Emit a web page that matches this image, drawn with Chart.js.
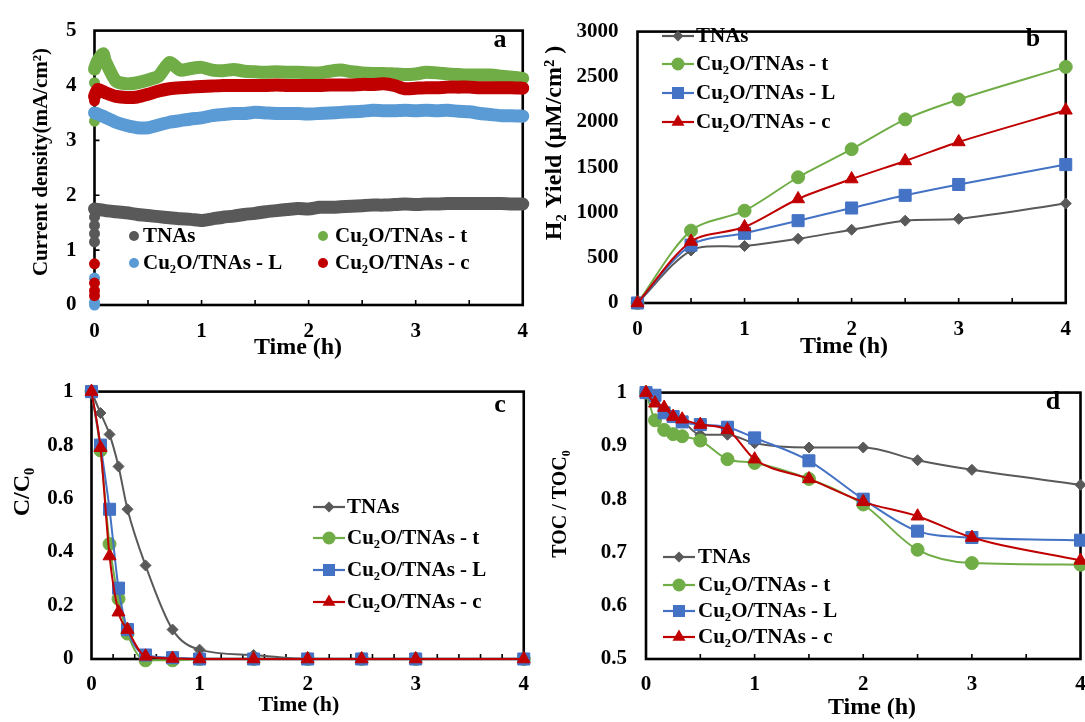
<!DOCTYPE html>
<html>
<head>
<meta charset="utf-8">
<script src="https://cdn.jsdelivr.net/npm/chart.js@4.4.1/dist/chart.umd.min.js"></script>
<style>
  html, body { margin: 0; padding: 0; background: #fff; overflow: hidden; width: 1085px; height: 722px; }
  canvas { position: absolute; }
</style>
</head>
<body>
<canvas id="ca" width="542" height="361" style="left:0;top:0"></canvas>
<canvas id="cb" width="543" height="361" style="left:542px;top:0"></canvas>
<canvas id="cc" width="542" height="361" style="left:0;top:361px"></canvas>
<canvas id="cd" width="563" height="361" style="left:542px;top:361px"></canvas>
<script>
var FONT = '"Liberation Serif", "Times New Roman", serif';
var names = ['TNAs', 'Cu₂O/TNAs - t', 'Cu₂O/TNAs - L', 'Cu₂O/TNAs - c'];
var colA = ['#595959', '#70AD47', '#5B9BD5', '#C00000'];
var colL = ['#595959', '#70AD47', '#4472C4', '#C00000'];
var marks = ['rectRot', 'circle', 'rect', 'triangle'];
var markR = [5.5, 6.5, 8.5, 7.5];

// (a) current density vs time
var tA = [0, 0.03, 0.08, 0.1, 0.2, 0.3, 0.4, 0.5, 0.6, 0.7, 0.8, 0.9, 1.0, 1.1, 1.2, 1.3, 1.4, 1.5, 1.6, 1.7, 1.8, 1.9, 2.0,
  2.1, 2.2, 2.3, 2.4, 2.5, 2.6, 2.7, 2.8, 2.9, 3.0, 3.1, 3.2, 3.3, 3.4, 3.5, 3.6, 3.7, 3.8, 3.9, 4.0];
var aTNAs = [1.75, 1.74, 1.73, 1.72, 1.70, 1.68, 1.65, 1.63, 1.61, 1.59, 1.57, 1.56, 1.54, 1.57, 1.60, 1.62, 1.65, 1.67, 1.70, 1.72, 1.74, 1.76, 1.75,
  1.78, 1.78, 1.79, 1.80, 1.81, 1.82, 1.82, 1.83, 1.84, 1.83, 1.84, 1.84, 1.85, 1.85, 1.85, 1.85, 1.85, 1.85, 1.84, 1.84];
var aT = [4.30, 4.45, 4.58, 4.45, 4.08, 4.03, 4.05, 4.10, 4.17, 4.42, 4.28, 4.31, 4.33, 4.28, 4.27, 4.29, 4.26, 4.25, 4.24, 4.25, 4.24, 4.24, 4.23,
  4.23, 4.26, 4.28, 4.25, 4.23, 4.22, 4.22, 4.21, 4.20, 4.21, 4.24, 4.23, 4.21, 4.20, 4.19, 4.19, 4.19, 4.17, 4.15, 4.13];
var aL = [3.50, 3.48, 3.44, 3.42, 3.33, 3.27, 3.23, 3.23, 3.28, 3.33, 3.36, 3.39, 3.41, 3.45, 3.47, 3.49, 3.49, 3.51, 3.50, 3.49, 3.49, 3.49, 3.48,
  3.49, 3.50, 3.51, 3.52, 3.53, 3.55, 3.54, 3.54, 3.55, 3.54, 3.55, 3.54, 3.55, 3.53, 3.52, 3.49, 3.47, 3.45, 3.45, 3.44];
var aC = [3.80, 3.93, 3.89, 3.87, 3.80, 3.78, 3.79, 3.84, 3.90, 3.94, 3.96, 3.97, 3.98, 3.99, 4.00, 4.00, 4.00, 4.00, 4.00, 4.01, 4.00, 4.00, 4.00,
  4.00, 4.01, 4.01, 4.01, 4.02, 4.02, 4.03, 4.00, 3.94, 3.95, 3.96, 3.96, 3.97, 3.97, 3.97, 3.96, 3.96, 3.96, 3.96, 3.95];
// scattered first readings at t = 0
var a0TNAs = [1.15, 1.3, 1.45, 1.6];
var a0T = [3.35, 4.05];
var a0L = [0.49, 0.05, 0.0, 3.5];
var a0C = [0.75, 0.40, 0.26, 0.17, 3.72];

// (b) H2 yield
var tB = [0, 0.5, 1, 1.5, 2, 2.5, 3, 4];
var bTNAs = [0, 580, 630, 710, 810, 910, 930, 1100];
var bT = [0, 800, 1020, 1390, 1700, 2030, 2250, 2610];
var bL = [0, 640, 770, 910, 1050, 1190, 1310, 1530];
var bC = [0, 680, 840, 1150, 1370, 1570, 1780, 2130];

// (c) C/C0
var tC = [0, 0.083, 0.167, 0.25, 0.333, 0.5, 0.75, 1, 1.5, 2, 2.5, 3, 4];
var cTNAs = [1, 0.92, 0.84, 0.72, 0.56, 0.35, 0.11, 0.035, 0.015, 0, 0, 0, 0];
var cT = [1, 0.78, 0.43, 0.225, 0.095, -0.005, -0.005, 0, 0, 0, 0, 0, 0];
var cL = [1, 0.80, 0.56, 0.265, 0.11, 0.015, 0.005, 0, 0, 0, 0, 0, 0];
var cC = [1, 0.79, 0.385, 0.175, 0.11, 0.01, 0.002, 0, 0, 0, 0, 0, 0];

// (d) TOC/TOC0
var tD = [0, 0.083, 0.167, 0.25, 0.333, 0.5, 0.75, 1, 1.5, 2, 2.5, 3, 4];
var dTNAs = [1, 0.985, 0.967, 0.957, 0.947, 0.921, 0.921, 0.905, 0.897, 0.897, 0.873, 0.855, 0.827];
var dT = [1, 0.948, 0.930, 0.922, 0.918, 0.910, 0.875, 0.868, 0.838, 0.790, 0.705, 0.680, 0.677];
var dL = [1, 0.995, 0.962, 0.955, 0.945, 0.940, 0.935, 0.915, 0.872, 0.800, 0.740, 0.728, 0.723];
var dC = [1, 0.980, 0.972, 0.955, 0.950, 0.940, 0.930, 0.875, 0.838, 0.795, 0.768, 0.728, 0.685];

function pts(xs, ys) { return ys.map(function (v, i) { return { x: xs[i], y: v }; }); }
function zeros(ys) { return ys.map(function (v) { return { x: 0, y: v }; }); }

function bold(size) { return { family: FONT, size: size, weight: 'bold' }; }

function marker(ctx, style, x, y, r, color) {
  ctx.save();
  ctx.fillStyle = color;
  ctx.beginPath();
  if (style === 'circle') {
    ctx.arc(x, y, r, 0, Math.PI * 2);
  } else if (style === 'rect') {
    var s = r * Math.SQRT1_2;
    ctx.rect(x - s, y - s, 2 * s, 2 * s);
  } else if (style === 'rectRot') {
    ctx.moveTo(x, y - r); ctx.lineTo(x + r, y); ctx.lineTo(x, y + r); ctx.lineTo(x - r, y); ctx.closePath();
  } else {
    var h = Math.sqrt(3) / 2 * r;
    ctx.moveTo(x, y - r); ctx.lineTo(x + h, y + r / 2); ctx.lineTo(x - h, y + r / 2); ctx.closePath();
  }
  ctx.fill();
  ctx.restore();
}

var decor = {
  id: 'decor',
  beforeDatasetsDraw: function (chart) {
    var o = chart.options.plugins.decor, ctx = chart.ctx, a = chart.chartArea;
    var xs = chart.scales.x, ys = chart.scales.y, i, n, p;
    ctx.save();
    ctx.strokeStyle = '#000';
    ctx.lineWidth = 1.6;
    ctx.beginPath();
    n = Math.round((xs.max - xs.min) / o.xTick);
    for (i = 1; i < n; i++) {
      p = xs.getPixelForValue(xs.min + i * o.xTick);
      ctx.moveTo(p, a.bottom); ctx.lineTo(p, a.bottom - 5);
    }
    if (o.yTick) {
      n = Math.round((ys.max - ys.min) / o.yTick);
      for (i = 1; i < n; i++) {
        p = ys.getPixelForValue(ys.min + i * o.yTick);
        ctx.moveTo(a.left, p); ctx.lineTo(a.left + 5, p);
      }
    }
    ctx.stroke();
    ctx.lineWidth = 2.6;
    ctx.strokeRect(a.left, a.top, a.right - a.left, a.bottom - a.top);
    ctx.restore();
  },
  afterDraw: function (chart) {
    var o = chart.options.plugins.decor, ctx = chart.ctx;
    ctx.save();
    ctx.fillStyle = '#000';
    ctx.textBaseline = 'middle';
    ctx.textAlign = 'center';
    ctx.font = 'bold 26px ' + FONT;
    ctx.fillText(o.letter[0], o.letter[1], o.letter[2]);
    ctx.font = 'bold ' + o.xTitle[3] + 'px ' + FONT;
    ctx.fillText(o.xTitle[0], o.xTitle[1], o.xTitle[2]);
    ctx.save();
    ctx.translate(o.yTitle[1], o.yTitle[2]);
    ctx.rotate(-Math.PI / 2);
    ctx.font = 'bold ' + o.yTitle[3] + 'px ' + FONT;
    ctx.fillText(o.yTitle[0], 0, 0);
    ctx.restore();
    // legend
    var lg = o.legend;
    ctx.font = 'bold 21px ' + FONT;
    ctx.textAlign = 'left';
    for (var i = 0; i < names.length; i++) {
      var it = lg.items[i];
      if (lg.kind === 'dot') {
        marker(ctx, 'circle', it[0], it[2], 5, colA[i]);
      } else {
        ctx.strokeStyle = colL[i];
        ctx.lineWidth = 2.2;
        ctx.beginPath();
        ctx.moveTo(it[0] - 16, it[2]); ctx.lineTo(it[0] + 16, it[2]);
        ctx.stroke();
        marker(ctx, marks[i], it[0], it[2], markR[i], colL[i]);
      }
      ctx.fillStyle = '#000';
      ctx.fillText(names[i], it[1], it[2] + 1);
    }
    ctx.restore();
  }
};

function fmt(v) { return String(Math.round(v * 100) / 100); }

function scales(xw, yw, ymin, ymax, ystep, xpad, ypad) {
  return {
    x: {
      type: 'linear', min: 0, max: 4,
      ticks: { stepSize: 1, font: bold(21), color: '#000', padding: xpad, callback: fmt, maxRotation: 0 },
      grid: { display: false, drawTicks: false }, border: { display: false },
      afterFit: function (s) { s.height = xw; }
    },
    y: {
      type: 'linear', min: ymin, max: ymax,
      ticks: { stepSize: ystep, font: bold(21), color: '#000', padding: ypad, callback: fmt },
      grid: { display: false, drawTicks: false }, border: { display: false },
      afterFit: function (s) { s.width = yw; }
    }
  };
}

function lineSet(i, data, smooth) {
  var ds = {
    label: names[i], data: data, showLine: true, clip: false,
    borderColor: colL[i], backgroundColor: colL[i], borderWidth: 2,
    pointStyle: marks[i], pointRadius: markR[i], pointBorderWidth: 1,
    pointBorderColor: colL[i], pointBackgroundColor: colL[i],
    order: [4, 3, 2, 1][i]
  };
  if (smooth === 'mono') ds.cubicInterpolationMode = 'monotone'; else ds.tension = smooth;
  return ds;
}

function bandSet(i, data, ord) {
  return {
    label: names[i], data: data, showLine: true, clip: false,
    borderColor: colA[i], backgroundColor: colA[i], borderWidth: 13,
    borderCapStyle: 'round', borderJoinStyle: 'round', tension: 0.2,
    pointRadius: 0, order: ord
  };
}

function dotSet(i, data, ord) {
  return {
    label: names[i], data: data, showLine: false, clip: false,
    backgroundColor: colA[i], borderColor: colA[i], pointRadius: 5.5, borderWidth: 0, order: ord
  };
}

function base(datasets, sc, pad, decorOpts) {
  return {
    type: 'scatter',
    data: { datasets: datasets },
    options: {
      responsive: false, animation: false, devicePixelRatio: 1,
      layout: { padding: pad },
      plugins: { legend: { display: false }, tooltip: { enabled: false }, decor: decorOpts },
      scales: sc
    },
    plugins: [decor]
  };
}

new Chart(document.getElementById('ca'), base([
  bandSet(0, pts(tA, aTNAs), 4), dotSet(0, zeros(a0TNAs), 4),
  bandSet(1, pts(tA, aT), 3), dotSet(1, zeros(a0T), 3),
  bandSet(2, pts(tA, aL), 2), dotSet(2, zeros(a0L), 2),
  bandSet(3, pts(tA, aC), 1), dotSet(3, zeros(a0C), 1)
], scales(56, 94.5, 0, 5, 1, 14, 18), { top: 15, right: 14.5, left: 0, bottom: 0 }, {
  xTick: 0.5, yTick: 1,
  letter: ['a', 500, 40],
  xTitle: ['Time (h)', 298, 348, 24],
  yTitle: ['Current density(mA/cm²)', 42, 162, 21],
  legend: { kind: 'dot', items: [[134, 143, 236], [323, 335, 236], [134, 143, 263], [323, 335, 263]] }
}));

new Chart(document.getElementById('cb'), base([
  lineSet(0, pts(tB, bTNAs), 0.3), lineSet(1, pts(tB, bT), 0.3),
  lineSet(2, pts(tB, bL), 0.3), lineSet(3, pts(tB, bC), 0.3)
], scales(58, 95.5, 0, 3000, 500, 14, 19), { top: 14, right: 15, left: 0, bottom: 0 }, {
  xTick: 0.5, yTick: 0,
  letter: ['b', 491, 39],
  xTitle: ['Time (h)', 302, 347, 24],
  yTitle: ['H₂ Yield (μM/cm² )', 13, 143, 24],
  legend: { kind: 'line', items: [[136, 154, 36], [136, 154, 64], [136, 154, 93], [136, 154, 122]] }
}));

new Chart(document.getElementById('cc'), base([
  lineSet(0, pts(tC, cTNAs), 'mono'), lineSet(1, pts(tC, cT), 'mono'),
  lineSet(2, pts(tC, cL), 'mono'), lineSet(3, pts(tC, cC), 'mono')
], scales(63, 91.5, 0, 1, 0.2, 13, 18), { top: 12, right: 14.5, left: 0, bottom: 0 }, {
  xTick: 0.2, yTick: 0,
  letter: ['c', 500, 44],
  xTitle: ['Time (h)', 299, 344, 22],
  yTitle: ['C/C₀', 23, 131, 24],
  legend: { kind: 'line', items: [[329, 347, 146], [329, 347, 177], [329, 347, 209], [329, 347, 241]] }
}));

new Chart(document.getElementById('cd'), base([
  lineSet(0, pts(tD, dTNAs), 'mono'), lineSet(1, pts(tD, dT), 'mono'),
  lineSet(2, pts(tD, dL), 'mono'), lineSet(3, pts(tD, dC), 'mono')
], scales(63, 104, 0.5, 1, 0.1, 13, 19), { top: 10, right: 24.5, left: 0, bottom: 0 }, {
  xTick: 0.5, yTick: 0,
  letter: ['d', 511, 41],
  xTitle: ['Time (h)', 330, 347, 24],
  yTitle: ['TOC / TOC₀', 19, 143, 20],
  legend: { kind: 'line', items: [[137, 156, 196], [137, 156, 224], [137, 156, 250], [137, 156, 276]] }
}));
</script>
</body>
</html>
